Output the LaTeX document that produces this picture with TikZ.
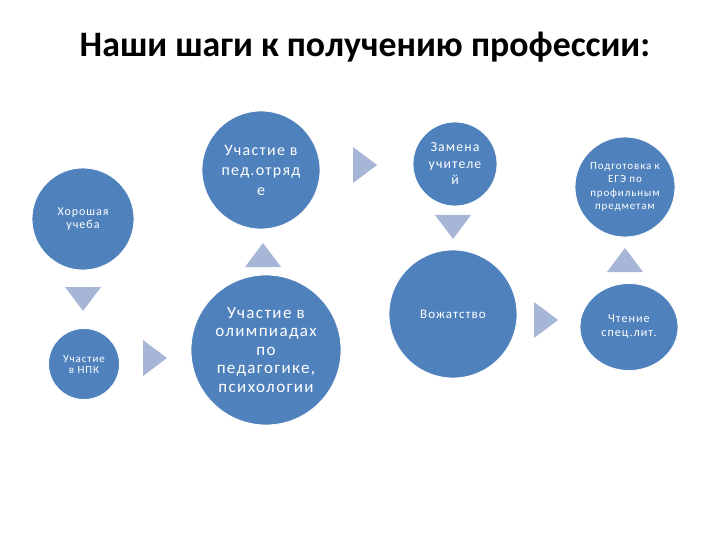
\documentclass[tikz,border=0pt]{standalone}
\usepackage{fontspec}
\setmainfont{Carlito}
\newfontfamily\circfont[LetterSpace=8]{Carlito}
\usetikzlibrary{shapes.geometric}
\definecolor{stepblue}{RGB}{79,129,189}
\definecolor{arrowgrey}{RGB}{167,182,214}

\begin{document}
\begin{tikzpicture}[x=1pt,y=-1pt,
  disc/.style={circle,fill=stepblue,draw=white,line width=0.8pt,text=white,align=center,inner sep=0pt,minimum size=#1},
  tri/.style={fill=arrowgrey}]
\useasboundingbox[fill=white] (0,0) rectangle (720,540);
\node[anchor=base,font=\bfseries\fontsize{35.8}{40}\selectfont] (title) at (365,57) {Наши шаги к получению профессии:};
% steps
\node[disc=102pt,font=\circfont\fontsize{12}{13}\selectfont] (ucheba) at (83,219) {Хорошая\\учеба};
\node[disc=71pt,font=\circfont\fontsize{11}{11}\selectfont] (npk) at (84,364) {Участие\\в НПК};
\node[disc=118pt,font=\circfont\fontsize{16}{20}\selectfont] (otryad) at (261,170) {Участие в\\пед.отряд\\е};
\node[disc=150pt,font=\circfont\fontsize{17}{18.5}\selectfont] (olimp) at (266,350) {Участие в\\олимпиадах\\по\\педагогике,\\психологии};
\node[disc=84pt,font=\circfont\fontsize{13.8}{16.5}\selectfont] (zamena) at (455,164) {Замена\\учителе\\й};
\node[disc=128pt,font=\circfont\fontsize{13}{14}\selectfont] (vozh) at (453,314) {Вожатство};
\node[disc=100pt,font=\circfont\fontsize{11}{13.3}\selectfont] (ege) at (625,187) {Подготовка к\\ЕГЭ по\\профильным\\предметам};
\node[disc=0pt,ellipse,minimum width=98pt,minimum height=87pt,font=\circfont\fontsize{12.2}{14}\selectfont] (chtenie) at (629,327) {Чтение\\спец.лит.};
% arrows between steps
\foreach \x/\y/\a in {83/299/-90,155/358/0,263/255/90,365/165/0,453/227/-90,546/320/0,625/260/90}
  \fill[tri,shift={(\x,\y)},rotate=\a] (-12,-18) -- (12,0) -- (-12,18) -- cycle;
\end{tikzpicture}
\end{document}
